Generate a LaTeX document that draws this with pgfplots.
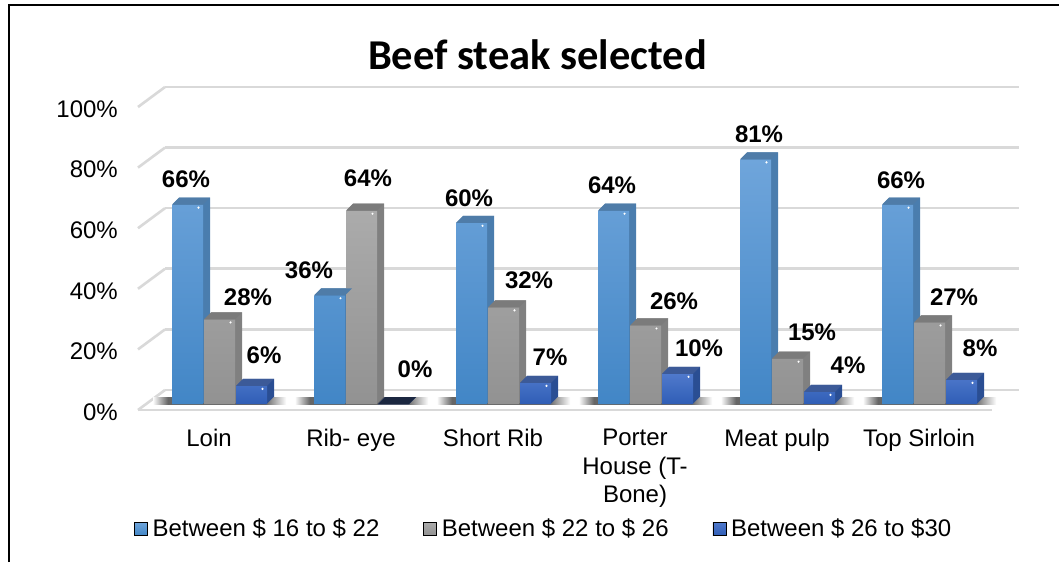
\documentclass[border=0pt]{standalone}
\usepackage{pgfplots}
\pgfplotsset{compat=1.18}
\usepackage{pgfplotstable}
\usepackage{fontspec}
\setmainfont{Liberation Sans}
\newfontfamily\titlefont{Carlito}
\definecolor{gridc}{HTML}{D9D9D9}
\definecolor{blueT}{HTML}{6FA5DB}\definecolor{blueB}{HTML}{4286C6}
\definecolor{blueS}{HTML}{4A7DAE}\definecolor{blueP}{HTML}{4F7CA8}
\definecolor{grayT}{HTML}{ABABAB}\definecolor{grayB}{HTML}{929292}
\definecolor{grayS}{HTML}{808080}\definecolor{grayP}{HTML}{7B7B7B}
\definecolor{darkT}{HTML}{4F79CC}\definecolor{darkB}{HTML}{305EB6}
\definecolor{darkS}{HTML}{2A4E93}\definecolor{darkP}{HTML}{3C5A98}
\definecolor{navy}{HTML}{1B2740}
\pgfdeclarehorizontalshading{floorsh}{6bp}{color(0bp)=(white); color(15bp)=(black!60); color(112bp)=(black!60); color(133bp)=(white)}
\pgfdeclareplotmark{floorshadow}{\pgftext[center,y=-11pt]{\pgfuseshading{floorsh}}}
\newcommand\mktop[1]{%
 \pgfdeclareplotmark{top#1}{%
  \pgfsetfillcolor{#1P}\pgfsetlinewidth{0pt}%
  \pgfpathmoveto{\pgfpoint{-15.5pt}{0pt}}%
  \pgfpathlineto{\pgfpoint{15.5pt}{0pt}}%
  \pgfpathlineto{\pgfpoint{22.5pt}{7pt}}%
  \pgfpathlineto{\pgfpoint{-8.5pt}{7pt}}%
  \pgfpathclose\pgfusepathqfill
  \pgfsetfillcolor{white}%
  \pgfpathcircle{\pgfpoint{11pt}{-3pt}}{1.2pt}\pgfusepathqfill}}
\mktop{blue}\mktop{gray}\mktop{dark}
\pgfdeclareplotmark{topnavy}{%
  \pgfsetfillcolor{navy}%
  \pgfpathmoveto{\pgfpoint{-15.5pt}{0pt}}%
  \pgfpathlineto{\pgfpoint{15.5pt}{0pt}}%
  \pgfpathlineto{\pgfpoint{22.5pt}{7pt}}%
  \pgfpathlineto{\pgfpoint{-8.5pt}{7pt}}%
  \pgfpathclose\pgfusepathqfill}
% x value dx dy : label offset from bar top centre
\pgfplotstableread{
x y dx dy
0 66 -1.5 25
1 36 -20.5 25
2 60 -2.5 25
3 64 -1.5 25
4 81 3.5 25
5 66 3.5 24
}\blueT
\pgfplotstableread{
x y dx dy
0 28 28.5 22
1 64 6.5 32
2 32 25.5 27
3 26 28.5 24
4 15 24.5 26
5 27 24.5 25
}\grayT
\pgfplotstableread{
x y dx dy
0 6 12.5 31
1 0 21.5 35
2 7 14.5 26
3 10 21.5 26
4 4 28.5 27
5 8 18.5 32
}\darkT
\pgfplotstableread{
x y
54.5 0
196.5 0
338.5 0
480.5 0
622.5 0
764.5 0
}\floorT
\pgfplotsset{
 depth/.style n args={3}{ybar,bar width=31pt,bar shift=0pt,draw=none,fill=#1,forget plot,
   xshift=#2pt,yshift=#3pt},
 front/.style n args={3}{ybar,bar width=31pt,bar shift=0pt,draw=none,
   top color=#1,bottom color=#2,forget plot,xshift=#3pt},
 lab/.style={only marks,mark=none,forget plot,xshift=#1pt,point meta=y,
   visualization depends on={\thisrow{dx} \as \dx},
   visualization depends on={\thisrow{dy} \as \dy},
   nodes near coords={\pgfmathprintnumber[assume math mode=true,precision=0]{\pgfplotspointmeta}\%},
   nodes near coords style={anchor=center,font=\fontsize{24}{28}\selectfont\bfseries,text=black,
     xshift=\dx pt,yshift=\dy pt,inner sep=0pt}},
}
\begin{document}
\begin{tikzpicture}[x=1pt,y=1pt]
\useasboundingbox (0,0) rectangle (1059,562);
\fill[white] (0,0) rectangle (1059,562);
\draw[black,line width=2pt] (8.5,0) -- (8.5,556.5) -- (1059,556.5);
% back wall and floor
\begin{axis}[at={(165pt,172pt)},anchor=south west,scale only axis,width=854pt,height=303pt,
  xmin=0,xmax=854,ymin=0,ymax=100,xtick=\empty,ytick={0,20,...,100},clip=false,
  ymajorgrids,grid style={gridc,line width=2.6pt},
  axis line style={draw=none},tick style={draw=none},
  /pgf/number format/assume math mode=true,
  yticklabel={\pgfmathprintnumber{\tick}\%},
  yticklabel style={font=\fontsize{24}{28}\selectfont,anchor=east,xshift=-47pt,yshift=-22pt,inner sep=0pt},
]
\pgfplotsinvokeforeach{0,20,40,60,80,100}{
  \draw[gridc,line width=2.6pt] (axis cs:0,#1) -- ++(-27pt,-20pt);
}
\draw[gridc,line width=2.8pt] (axis cs:0,0) ++(-27pt,-20pt) -- ++(854pt,0pt);
\addplot[only marks,mark=floorshadow,forget plot] table[x=x,y=y]{\floorT};
\end{axis}
% bars
\begin{axis}[at={(138pt,158pt)},anchor=south west,scale only axis,width=854pt,height=302pt,
  xmin=-0.574,xmax=5.440,ymin=0,ymax=100,clip=false,axis line style={draw=none},
  ytick=\empty,xtick={0,1,2,3,4,5},tick style={draw=none},
  xticklabels={Loin,Rib- eye,Short Rib,{Porter\\House (T-\\Bone)},Meat pulp,Top Sirloin},
  xticklabel style={font=\fontsize{24}{28.5}\selectfont,align=center,anchor=north,xshift=-10.5pt,yshift=-25pt,inner sep=0pt},
  title={\titlefont\bfseries Beef steak selected},
  title style={at={(0.4678,1.136)},anchor=center,font=\fontsize{42.5}{46}\selectfont,inner sep=0pt},
  legend style={at={(0,0)},anchor=north west,xshift=-4pt,yshift=-113pt,draw=none,fill=none,
    legend columns=3,font=\fontsize{24}{28}\selectfont,inner sep=0pt,
    /tikz/every even column/.append style={column sep=42pt},
    /tikz/every odd column/.append style={column sep=3pt}},
  legend cell align=left,
  legend image code/.code={\path[#1] (0pt,-6.5pt) rectangle (13pt,6.5pt);},
]
\addlegendimage{top color=blueT,bottom color=blueB}
\addlegendentry{Between \$ 16 to \$ 22}
\addlegendimage{top color=grayT,bottom color=grayB}
\addlegendentry{Between \$ 22 to \$ 26}
\addlegendimage{top color=darkT,bottom color=darkB}
\addlegendentry{Between \$ 26 to \$30}
% blue
\pgfplotsinvokeforeach{7,6,5,4,3,2,1}{\addplot[depth={blueS}{\the\numexpr-32+#1\relax}{#1}] table[x=x,y=y]{\blueT};}
\addplot[front={blueT}{blueB}{-32}] table[x=x,y=y]{\blueT};
\addplot[only marks,mark=topblue,forget plot,xshift=-32pt] table[x=x,y=y]{\blueT};
% gray
\pgfplotsinvokeforeach{7,6,5,4,3,2,1}{\addplot[depth={grayS}{#1}{#1}] table[x=x,y=y]{\grayT};}
\addplot[front={grayT}{grayB}{0}] table[x=x,y=y]{\grayT};
\addplot[only marks,mark=topgray,forget plot] table[x=x,y=y]{\grayT};
% dark blue
\pgfplotsinvokeforeach{7,6,5,4,3,2,1}{\addplot[depth={darkS}{\the\numexpr32+#1\relax}{#1}] table[x=x,y=y]{\darkT};}
\addplot[front={darkT}{darkB}{32}] table[x=x,y=y]{\darkT};
\addplot[only marks,mark=topdark,forget plot,xshift=32pt] table[x=x,y=y]{\darkT};
\addplot[only marks,mark=topnavy,forget plot,xshift=32pt] coordinates {(1,0)};
% labels
\addplot[lab=-32] table[x=x,y=y]{\blueT};
\addplot[lab=0] table[x=x,y=y]{\grayT};
\addplot[lab=32] table[x=x,y=y]{\darkT};
\end{axis}
\end{tikzpicture}
\end{document}
